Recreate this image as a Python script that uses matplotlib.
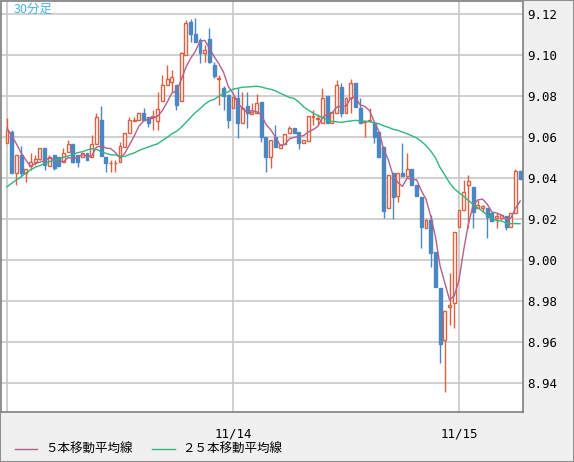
import numpy as np
import pandas as pd
import matplotlib
matplotlib.use('Agg')
import matplotlib.pyplot as plt
from matplotlib.lines import Line2D
from matplotlib.patches import Rectangle

# 30-minute candles, 11/13 00:00 .. 11/15 06:30
opens = [9.0570, 9.0624, 9.0424, 9.0512, 9.0424, 9.0458, 9.0478, 9.0492, 9.0546, 9.0458,
         9.0512, 9.0502, 9.0478, 9.0527, 9.0566, 9.0512, 9.0502, 9.0522, 9.0502, 9.0566,
         9.0683, 9.0502, 9.0471, 9.0471, 9.0478, 9.0551, 9.0619, 9.0680, 9.0683, 9.0717,
         9.0697, 9.0700, 9.0678, 9.0775, 9.0853, 9.0868, 9.0853, 9.0775, 9.1000, 9.1160,
         9.1102, 9.1073, 9.1009, 9.1078, 9.0951, 9.0883, 9.0839, 9.0805, 9.0741, 9.0790,
         9.0668, 9.0751, 9.0712, 9.0717, 9.0770, 9.0600, 9.0502, 9.0600, 9.0546, 9.0566,
         9.0619, 9.0644, 9.0624, 9.0570, 9.0580, 9.0700, 9.0690, 9.0668, 9.0800, 9.0668,
         9.0717, 9.0844, 9.0717, 9.0790, 9.0863, 9.0741, 9.0675, 9.0678, 9.0668, 9.0624,
         9.0551, 9.0253, 9.0424, 9.0312, 9.0424, 9.0410, 9.0444, 9.0366, 9.0307, 9.0156,
         9.0195, 9.0039, 8.9863, 8.9610, 8.9770, 8.9790, 9.0161, 9.0244, 9.0366, 9.0356,
         9.0253, 9.0253, 9.0253, 9.0229, 9.0205, 9.0205, 9.0214, 9.0161, 9.0229, 9.0434]
highs = [9.0692, 9.0634, 9.0512, 9.0556, 9.0444, 9.0522, 9.0512, 9.0546, 9.0546, 9.0512,
         9.0512, 9.0502, 9.0546, 9.0585, 9.0566, 9.0512, 9.0527, 9.0522, 9.0609, 9.0717,
         9.0751, 9.0502, 9.0487, 9.0487, 9.0575, 9.0619, 9.0697, 9.0697, 9.0717, 9.0741,
         9.0697, 9.0731, 9.0819, 9.0902, 9.0951, 9.0927, 9.0853, 9.1014, 9.1170, 9.1175,
         9.1180, 9.1083, 9.1049, 9.1131, 9.0966, 9.0902, 9.0849, 9.0805, 9.0795, 9.0839,
         9.0819, 9.0819, 9.0766, 9.0810, 9.0770, 9.0600, 9.0585, 9.0658, 9.0561, 9.0614,
         9.0654, 9.0644, 9.0624, 9.0585, 9.0702, 9.0731, 9.0712, 9.0839, 9.0800, 9.0722,
         9.0878, 9.0863, 9.0795, 9.0883, 9.0863, 9.0790, 9.0678, 9.0741, 9.0668, 9.0624,
         9.0551, 9.0414, 9.0424, 9.0424, 9.0570, 9.0522, 9.0444, 9.0366, 9.0307, 9.0200,
         9.0219, 9.0039, 8.9863, 8.9751, 8.9936, 9.0136, 9.0244, 9.0390, 9.0415, 9.0356,
         9.0292, 9.0268, 9.0253, 9.0229, 9.0229, 9.0219, 9.0214, 9.0229, 9.0444, 9.0434]
lows = [9.0570, 9.0424, 9.0366, 9.0405, 9.0380, 9.0439, 9.0463, 9.0487, 9.0439, 9.0458,
        9.0439, 9.0458, 9.0478, 9.0527, 9.0473, 9.0453, 9.0502, 9.0487, 9.0502, 9.0566,
        9.0507, 9.0429, 9.0429, 9.0429, 9.0478, 9.0551, 9.0619, 9.0678, 9.0683, 9.0683,
        9.0648, 9.0634, 9.0634, 9.0775, 9.0853, 9.0819, 9.0731, 9.0775, 9.1000, 9.1063,
        9.1063, 9.0961, 9.0966, 9.0961, 9.0888, 9.0756, 9.0731, 9.0644, 9.0741, 9.0595,
        9.0668, 9.0644, 9.0712, 9.0717, 9.0575, 9.0429, 9.0448, 9.0551, 9.0546, 9.0566,
        9.0619, 9.0619, 9.0541, 9.0570, 9.0580, 9.0658, 9.0658, 9.0668, 9.0668, 9.0668,
        9.0717, 9.0697, 9.0717, 9.0717, 9.0746, 9.0668, 9.0600, 9.0678, 9.0570, 9.0502,
        9.0205, 9.0253, 9.0200, 9.0283, 9.0410, 9.0410, 9.0366, 9.0312, 9.0058, 9.0156,
        8.9966, 8.9868, 8.9497, 8.9356, 8.9683, 8.9668, 9.0161, 9.0244, 9.0156, 9.0156,
        9.0253, 9.0234, 9.0107, 9.0190, 9.0156, 9.0195, 9.0146, 9.0161, 9.0229, 9.0395]
closes = [9.0634, 9.0424, 9.0512, 9.0424, 9.0444, 9.0478, 9.0492, 9.0546, 9.0463, 9.0502,
          9.0448, 9.0458, 9.0522, 9.0566, 9.0478, 9.0478, 9.0522, 9.0487, 9.0566, 9.0697,
          9.0507, 9.0473, 9.0473, 9.0473, 9.0556, 9.0619, 9.0683, 9.0683, 9.0717, 9.0683,
          9.0668, 9.0702, 9.0736, 9.0853, 9.0883, 9.0892, 9.0756, 9.1009, 9.1156, 9.1102,
          9.1063, 9.1009, 9.1024, 9.0966, 9.0897, 9.0888, 9.0800, 9.0683, 9.0795, 9.0668,
          9.0741, 9.0717, 9.0722, 9.0766, 9.0600, 9.0502, 9.0585, 9.0551, 9.0561, 9.0614,
          9.0644, 9.0619, 9.0570, 9.0585, 9.0702, 9.0702, 9.0692, 9.0790, 9.0668, 9.0722,
          9.0853, 9.0717, 9.0790, 9.0863, 9.0746, 9.0668, 9.0678, 9.0683, 9.0600, 9.0502,
          9.0239, 9.0414, 9.0307, 9.0424, 9.0410, 9.0444, 9.0366, 9.0312, 9.0161, 9.0195,
          9.0034, 8.9868, 8.9590, 8.9751, 8.9780, 9.0136, 9.0244, 9.0332, 9.0385, 9.0234,
          9.0268, 9.0263, 9.0210, 9.0190, 9.0214, 9.0219, 9.0161, 9.0229, 9.0434, 9.0395]

# averages for the first bars (window reaches back before the visible data)
ma5_head = [9.0644, 9.0605, 9.0566, 9.0522]
ma25_head = [9.0357, 9.0374, 9.0390, 9.0406, 9.0423, 9.0439, 9.0452, 9.0460, 9.0471, 9.0479,
             9.0486, 9.0492, 9.0501, 9.0507, 9.0515, 9.0523, 9.0528, 9.0536, 9.0543, 9.0540,
             9.0528, 9.0520, 9.0513, 9.0512]

day_pos = [0, 48, 96]
day_labels = ['', '11/14', '11/15']
y_ticks = [8.94, 8.96, 8.98, 9.00, 9.02, 9.04, 9.06, 9.08, 9.10, 9.12]

RED = '#dc6142'
BLUE = '#4a87c3'
PINK = '#b4608e'
GREEN = '#2fb67c'
BG = '#f0f0f0'

c = pd.Series(closes)
ma5 = c.rolling(5).mean().to_numpy()
ma5[:4] = ma5_head
ma25 = c.rolling(25).mean().to_numpy()
ma25[:24] = ma25_head

fig = plt.figure(figsize=(5.74, 4.62), dpi=100, facecolor=BG)
ax = fig.add_axes([1 / 574, 50 / 462, 522 / 574, 411 / 462])
ax.set_facecolor('white')

x = np.arange(len(closes))
for i in x:
    o, h, l, cl = opens[i], highs[i], lows[i], closes[i]
    col = RED if cl >= o else BLUE
    ax.vlines(i, l, h, color=col, lw=1, zorder=2)
    hgt = max(abs(cl - o), 0.0003)
    bot = min(o, cl) if abs(cl - o) > 0.0003 else (o + cl) / 2 - 0.00015
    ax.bar(i, hgt, bottom=bot, width=0.62,
           facecolor='white' if col == RED else BLUE,
           edgecolor=col, lw=1, zorder=3)

ax.plot(x, ma5, color=PINK, lw=1, zorder=4)
ax.plot(x, ma25, color=GREEN, lw=1, zorder=4)

ax.set_xlim(-1.27, 109.6)
ax.set_ylim(8.9258, 9.1263)

ax.set_xticks(day_pos)
ax.set_xticklabels(day_labels, fontsize=9, family='DejaVu Sans Mono')
ax.set_yticks(y_ticks)
ax.set_yticklabels(['%.2f' % v for v in y_ticks], fontsize=9, family='DejaVu Sans Mono')
ax.yaxis.tick_right()
ax.tick_params(axis='y', length=0, pad=3)
ax.tick_params(axis='x', length=0, pad=11)
ax.grid(True, color='#c8c8c8', lw=1.2, zorder=0)
ax.set_axisbelow(True)
for s in ax.spines.values():
    s.set_color('#808080')
    s.set_linewidth(1.2)

ax.text(0.025, 0.995, '30分足', transform=ax.transAxes, ha='left', va='top',
        fontsize=9, color='#45b2e6', family=['Noto Sans CJK JP', 'DejaVu Sans'])

# legend along the bottom
ly = 13 / 462
fig.add_artist(Line2D([15 / 574, 37 / 574], [ly, ly], color=PINK, lw=1))
fig.text(45 / 574, ly, '５本移動平均線', va='center', ha='left', fontsize=9,
         family=['Noto Sans CJK JP', 'DejaVu Sans'])
fig.add_artist(Line2D([152 / 574, 175 / 574], [ly, ly], color=GREEN, lw=1))
fig.text(182 / 574, ly, '２５本移動平均線', va='center', ha='left', fontsize=9,
         family=['Noto Sans CJK JP', 'DejaVu Sans'])

fig.add_artist(Rectangle((0, 0), 1, 1, transform=fig.transFigure, fill=False,
                         edgecolor='#909090', lw=1.5))

fig.savefig('out.png', dpi=100, facecolor=BG)
